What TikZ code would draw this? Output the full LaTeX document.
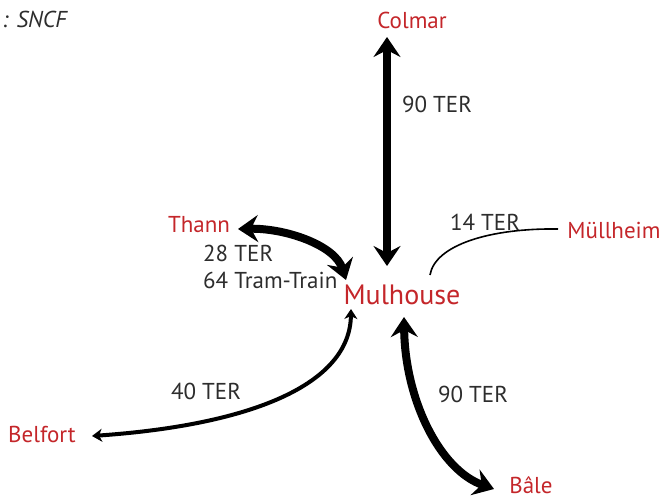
\documentclass[tikz,border=0pt]{standalone}
\usepackage{fontspec}
\setmainfont{PT Sans}
\usetikzlibrary{arrows.meta}
\definecolor{cityred}{RGB}{196,38,42}
\definecolor{labgray}{RGB}{45,45,45}
\tikzset{
  city/.style={text=cityred, font=\fontsize{23}{25}\selectfont, inner sep=0pt},
  bigcity/.style={text=cityred, font=\fontsize{28}{30}\selectfont, inner sep=0pt},
  lab/.style={text=labgray, font=\fontsize{23}{25}\selectfont, inner sep=0pt},
  heavy/.style={line width=8pt, {Stealth[length=20pt,width=27pt,inset=7pt]}-{Stealth[length=20pt,width=27pt,inset=7pt]}},
  medium/.style={line width=4pt, {Stealth[length=10pt,width=13pt,inset=3pt]}-{Stealth[length=10pt,width=13pt,inset=3pt]}},
  thin/.style={line width=1.6pt}
}
\begin{document}
\begin{tikzpicture}[x=1pt,y=-1pt]
\useasboundingbox (0,0) rectangle (661,501);
% labels
\node[anchor=west, inner sep=0pt, font=\fontsize{23}{25}\selectfont\itshape, text=labgray] (src) at (2,19) {: SNCF};
\node[city] (colmar) at (412,20) {Colmar};
\node[bigcity] (mulhouse) at (402,295) {Mulhouse};
\node[city] (thann) at (199,225) {Thann};
\node[city] (mullheim) at (614,230) {Müllheim};
\node[city] (belfort) at (42,434) {Belfort};
\node[city] (bale) at (531,485) {Bâle};
\node[lab] (l1) at (437,104) {90 TER};
\node[lab, anchor=west] (l2) at (203,253) {28 TER};
\node[lab, anchor=west] (l3) at (203,280) {64 Tram-Train};
\node[lab] (l4) at (485,222) {14 TER};
\node[lab] (l5) at (206,391) {40 TER};
\node[lab] (l6) at (473,394) {90 TER};
% arrow end points
\coordinate (colA) at (387,37);
\coordinate (colB) at (387,266);
\coordinate (thA) at (238,229);
\coordinate (thB) at (346,280);
\coordinate (muA) at (558,229);
\coordinate (muB) at (430,275);
\coordinate (beA) at (92,436);
\coordinate (beB) at (351,309);
\coordinate (baA) at (404,317);
\coordinate (baB) at (494,489);
% connectors
\draw[heavy] (colA) -- (colB);
\draw[heavy] (thA) .. controls (285,228) and (335,245) .. (thB);
\draw[thin] (muA) .. controls (490,228) and (435,245) .. (muB);
\draw[medium] (beA) .. controls (250,425) and (350,385) .. (beB);
\draw[heavy] (baA) .. controls (405,400) and (440,470) .. (baB);
\end{tikzpicture}
\end{document}
